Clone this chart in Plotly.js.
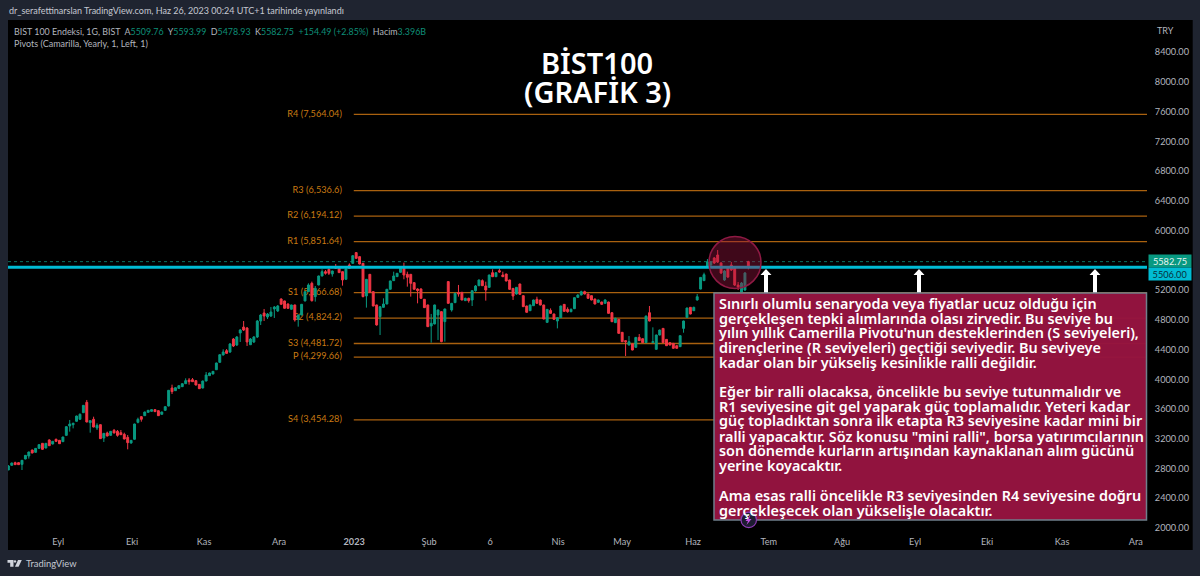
<!DOCTYPE html>
<html><head><meta charset="utf-8">
<script src="https://cdn.plot.ly/plotly-3.0.1.min.js"></script>
<style>html,body{margin:0;padding:0;background:#1f2430;overflow:hidden}#c{width:1200px;height:576px}</style>
</head><body><div id="c"></div>
<script>
const dirs=[
"ggrrgggrggrgrgrrgggggggrgrgrgrgrrrrrgggrgggrrgggrggggrrrrgggggggr",
"grggrrggggrgggg",
"rrrgrggggrgggrrgrrrgrgrrrgrrrgggggggrrrrrrrrgggrgrggrr",
"grgggrrgrgrrrrrgrrrggrrrgrrggrrggggrrrrgrgrrgrrrgrgrrgrgggrrrrrgggrggg",
"gggrrrgrrrrgg"].join("");
const bodyHigh=[2834,2874,2879,2879,2910,2977,3022,3049,3071,3121,3139,3139,3184,3166,3193,3179,3224,3363,3399,3408,3506,3529,3650,3690,3444,3462,3381,3390,3273,3278,3300,3314,3300,3282,3260,3219,3179,3399,3462,3497,3560,3583,3592,3592,3578,3560,3632,3852,3883,3887,3914,3941,3982,3991,3995,3982,3932,3977,4058,4085,4107,4219,4331,4367,4385,
4475,4542,4569,4663,4703,4690,4542,4569,4784,4865,4892,4878,4905,4972,4986,
5080,5054,5013,5000,5000,4865,5009,5179,5269,5291,5224,5390,5448,5448,5479,5457,5515,5502,5448,5484,5538,5663,5704,5650,5560,5345,5412,5179,5000,4977,5013,5211,5323,5390,5426,5493,5515,5412,5412,5300,5215,5215,5076,5000,4753,5000,4933,4910,4946,5314,5022,5157,5166,5170,
5089,5089,5192,5255,5336,5327,5255,5403,5434,5434,5461,5403,5416,5336,5223,5237,5282,5125,4986,5000,5067,5076,5067,4999,4941,4927,4878,4829,4986,5008,4941,4941,5098,5134,5179,5179,5147,5125,5080,5067,5040,5067,5040,4896,4820,4806,4632,4520,4506,4475,4564,4564,4546,4851,4896,4506,4596,4663,4685,4537,4493,4484,4452,4587,4784,4959,4968,4968,5111,5371,5407,
5578,5578,5632,5672,5564,5457,5511,5537,5497,5268,5295,5430,5582.75];
const bodyLow=[2780,2843,2852,2852,2856,2928,2968,3009,3018,3071,3058,3076,3107,3130,3166,3134,3161,3246,3372,3390,3435,3462,3551,3426,3417,3358,3345,3202,3210,3237,3246,3278,3246,3255,3197,3148,3143,3193,3421,3462,3511,3556,3569,3565,3511,3529,3583,3641,3834,3847,3878,3901,3941,3968,3968,3923,3874,3883,3977,4049,4071,4129,4228,4327,4349,
4367,4448,4461,4623,4663,4502,4465,4502,4569,4784,4851,4838,4851,4946,4919,
5009,4955,4955,4942,4798,4807,4865,5054,5179,5058,5112,5269,5390,5426,5426,5417,5493,5435,5336,5345,5493,5560,5627,5551,5112,5121,5170,4986,4731,4843,4968,5013,5211,5327,5381,5439,5403,5372,5291,5211,5193,5089,4964,4708,4717,4744,4865,4507,4776,5022,4933,5031,5148,5067,
5058,5058,5067,5192,5259,5259,5201,5237,5380,5380,5443,5380,5322,5210,5120,5147,5143,4977,4901,4923,4990,5022,4999,4811,4766,4887,4807,4784,4829,4914,4910,4910,4950,5102,5134,5147,5089,5067,5013,5035,5008,5022,4887,4775,4762,4618,4506,4506,4461,4394,4430,4520,4493,4493,4784,4493,4403,4596,4493,4452,4461,4417,4417,4439,4685,4833,4878,4923,5067,5214,5327,
5524,5537,5564,5578,5430,5336,5376,5470,5268,5241,5174,5201,5509.76];
const high=[2847,2879,2892,2883,2915,2982,3027,3053,3076,3125,3143,3143,3193,3170,3202,3184,3228,3367,3453,3417,3511,3542,3654,3722,3448,3497,3408,3394,3278,3296,3305,3332,3318,3318,3282,3251,3184,3403,3484,3506,3565,3587,3596,3600,3583,3565,3636,3856,3928,3892,3919,3946,4013,4017,4017,3986,3937,3982,4098,4089,4112,4224,4336,4403,4407,
4488,4555,4582,4677,4784,4703,4555,4582,4798,4878,4946,4892,4972,4986,4999,
5089,5058,5022,5004,5004,4870,5013,5184,5291,5314,5255,5394,5479,5470,5493,5462,5551,5506,5453,5488,5560,5668,5708,5654,5565,5349,5417,5184,5004,4982,5089,5215,5327,5448,5430,5497,5569,5448,5417,5305,5224,5224,5080,5004,4879,5004,4937,4915,4950,5318,5027,5161,5269,5175,
5098,5098,5197,5268,5340,5344,5313,5407,5479,5439,5492,5448,5421,5340,5228,5241,5286,5129,4990,5004,5071,5111,5071,5004,4945,4954,4883,4833,4990,5013,4968,4954,5102,5143,5192,5192,5152,5129,5085,5071,5044,5076,5044,4901,4829,4811,4636,4524,4582,4479,4569,4609,4551,4856,4986,4699,4600,4668,4690,4542,4497,4488,4457,4591,4789,4963,4972,4977,5147,5376,5434,
5618,5591,5645,5739,5578,5470,5524,5578,5511,5309,5309,5443,5593.99];
const low=[2780,2838,2847,2847,2780,2924,2933,3004,3013,3067,3053,3071,3103,3125,3157,3130,3157,3242,3296,3340,3430,3457,3547,3421,3282,3354,3318,3197,3157,3233,3242,3273,3228,3251,3193,3058,3134,3188,3408,3430,3506,3551,3565,3560,3506,3524,3578,3636,3802,3843,3874,3896,3937,3928,3964,3919,3869,3878,3973,4044,4067,4125,4224,4322,4345,
4354,4434,4448,4502,4650,4448,4461,4488,4555,4730,4784,4811,4838,4825,4905,
5004,4950,4946,4937,4776,4708,4861,5049,5175,5045,5045,5264,5385,5408,5403,5381,5488,5430,5260,5340,5488,5556,5623,5547,5103,4964,5166,4982,4722,4596,4964,5009,5206,5323,5376,5435,5345,5246,5112,5206,5022,5085,4959,4704,4493,4740,4529,4498,4507,5018,4910,5027,5112,5063,
5053,5031,4986,5179,5255,5255,5058,5232,5376,5376,5434,5376,5318,5206,5067,5138,5138,4972,4896,4919,4986,5017,4995,4807,4757,4883,4798,4685,4824,4910,4896,4901,4945,5098,5129,5143,5085,5062,5008,5031,5004,5017,4883,4771,4757,4614,4502,4313,4457,4390,4425,4515,4488,4488,4780,4488,4399,4591,4488,4448,4457,4412,4412,4434,4627,4829,4874,4919,5058,5210,5322,
5510,5524,5551,5564,5416,5322,5362,5457,5255,5201,5161,5188,5478.93];

const pivotNames=["R4 (7,564.04)","R3 (6,536.6)","R2 (6,194.12)","R1 (5,851.64)","S1 (5,166.68)","S2 (4,824.2)","S3 (4,481.72)","P (4,299.66)","S4 (3,454.28)"];
const pivotLevels=[7564.04,6536.6,6194.12,5851.64,5166.68,4824.2,4481.72,4299.66,3454.28];
const lastPrice=5582.75, supportLevel=5506;
const yTickVals=[2000,2400,2800,3200,3600,4000,4400,4800,5200,6000,6400,6800,7200,7600,8000,8400];
const xTickText=["Eyl","Eki","Kas","Ara","<b>2023</b>","Şub","6","Nis","May","Haz","Tem","Ağu","Eyl","Eki","Kas","Ara"];
const xTickVals=[14.6,36.3,57.4,79.4,101.4,123.4,141.3,161.2,180,200.8,223,244.5,265.9,287,309,330.6];
const boxLines=[
["Sınırlı olumlu senaryoda veya fiyatlar ucuz olduğu için",303],
["gerçekleşen tepki alımlarında olası zirvedir. Bu seviye bu",318],
["yılın yıllık Camerilla Pivotu'nun desteklerinden (S seviyeleri),",332.5],
["dirençlerine (R seviyeleri) geçtiği seviyedir. Bu seviyeye",347],
["kadar olan bir yükseliş kesinlikle ralli değildir.",362],
["Eğer bir ralli olacaksa, öncelikle bu seviye tutunmalıdır ve",391],
["R1 seviyesine git gel yaparak güç toplamalıdır. Yeteri kadar",406],
["güç topladıktan sonra ilk etapta R3 seviyesine kadar mini bir",421],
["ralli yapacaktır. Söz konusu \"mini ralli\", borsa yatırımcılarının",436],
["son dönemde kurların artışından kaynaklanan alım gücünü",450.5],
["yerine koyacaktır.",465],
["Ama esas ralli öncelikle R3 seviyesinden R4 seviyesine doğru",495],
["gerçekleşecek olan yükselişle olacaktır.",510]];
const arrowCenters=[766,919,1095];

const FONT='"Noto Sans", sans-serif', UI='Lato, "Noto Sans", sans-serif';
const GREEN='#089981', RED='#f23645', GREY='#b2b5be', ORANGE='#c97a12';
const L=8,R=1147,T=20,B=550;
const X=p=>(p-L)/(R-L), Y=p=>(B-p)/(B-T);
const xs=bodyHigh.map((_,i)=>i);
const open=xs.map(i=>dirs[i]==='g'?bodyLow[i]:bodyHigh[i]);
const close=xs.map(i=>dirs[i]==='g'?bodyHigh[i]:bodyLow[i]);
const xMin=-0.1,xMax=333.9,pivotStart=101.3,labelX=97.8;

const traces=[];
pivotLevels.forEach(v=>traces.push({type:'scatter',mode:'lines',x:[pivotStart,xMax],y:[v,v],line:{color:'#a9610f',width:1.3},hoverinfo:'skip',zorder:1,showlegend:false}));
traces.push({type:'scatter',mode:'text',x:pivotLevels.map(_=>labelX),y:pivotLevels,text:pivotNames,textposition:'middle left',textfont:{family:UI,size:9.2,color:ORANGE},hoverinfo:'skip',zorder:1,showlegend:false});
traces.push({type:'scatter',mode:'lines',x:[xMin,xMax],y:[lastPrice,lastPrice],line:{color:'#0b6f5e',width:1,dash:'dot'},hoverinfo:'skip',zorder:1,showlegend:false});
traces.push({type:'candlestick',x:xs,open:open,high:high,low:low,close:close,whiskerwidth:0,hoverinfo:'skip',zorder:2,showlegend:false,
  increasing:{line:{color:GREEN,width:1},fillcolor:GREEN},decreasing:{line:{color:RED,width:1},fillcolor:RED}});
traces.push({type:'scatter',mode:'lines',x:[xMin,xMax],y:[supportLevel,supportLevel],line:{color:'#00bcd4',width:3},hoverinfo:'skip',zorder:3,showlegend:false});

const shapes=[];
shapes.push({type:'rect',layer:'below',xref:'paper',yref:'paper',x0:1,x1:X(1192.7),y0:0,y1:1,fillcolor:'#000',line:{width:0}});
shapes.push({type:'circle',xref:'paper',yref:'paper',x0:X(709),x1:X(761),y0:Y(288.5),y1:Y(236.5),fillcolor:'rgba(150,20,62,0.42)',line:{color:'#8f1a44',width:1.5}});
arrowCenters.forEach(c=>{
  const d=[[c-2,293],[c-2,275],[c-5.5,275],[c,269],[c+5.5,275],[c+2,275],[c+2,293]];
  shapes.push({type:'path',xref:'paper',yref:'paper',path:'M'+d.map(q=>X(q[0])+','+Y(q[1])).join('L')+'Z',fillcolor:'#fff',line:{width:0}});
});
shapes.push({type:'rect',xref:'paper',yref:'paper',x0:X(714),x1:X(1146.5),y0:Y(520),y1:Y(293),fillcolor:'rgba(150,20,64,0.97)',line:{color:'#6f7f8c',width:1.5}});
shapes.push({type:'circle',xref:'paper',yref:'paper',x0:X(741),x1:X(756.5),y0:Y(527.7),y1:Y(512.2),fillcolor:'#1c1c30',line:{color:'#8e3ab5',width:1.2}});
const bolt=[[750.5,515],[745.5,521],[748,521],[746.5,525],[751.5,519],[749,519]];
shapes.push({type:'path',xref:'paper',yref:'paper',path:'M'+bolt.map(q=>X(q[0])+','+Y(q[1])).join('L')+'Z',fillcolor:'#c44fe6',line:{width:0}});
const logo=[[[7.5,560],[13.5,560],[13.5,566.7],[10.2,566.7],[10.2,562.7],[7.5,562.7]],[[18,560],[21.8,560],[18.6,566.7],[15,566.7]]];
logo.forEach(d=>shapes.push({type:'path',xref:'paper',yref:'paper',path:'M'+d.map(q=>X(q[0])+','+Y(q[1])).join('L')+'Z',fillcolor:'#d1d4dc',line:{width:0}}));
shapes.push({type:'circle',xref:'paper',yref:'paper',x0:X(13.8),x1:X(16.2),y0:Y(562.6),y1:Y(560.2),fillcolor:'#d1d4dc',line:{width:0}});

const note=(t,px,py,o={})=>Object.assign({text:t,xref:'paper',yref:'paper',x:X(px),y:Y(py),xanchor:'left',yanchor:'middle',showarrow:false,borderpad:0,font:{family:UI,size:9,color:GREY}},o);
const gv=s=>`<span style="color:#0e8f78">${s}</span>`;
const anns=[];
anns.push(note('dr_serafettinarslan TradingView.com, Haz 26, 2023 00:24 UTC+1 tarihinde yayınlandı',8,11,{font:{family:UI,size:9,color:'#c5c8d0'}}));
anns.push(note('BIST 100 Endeksi, 1G, BIST&nbsp;&nbsp;A'+gv('5509.76')+'&nbsp;&nbsp;Y'+gv('5593.99')+'&nbsp;&nbsp;D'+gv('5478.93')+'&nbsp;&nbsp;K'+gv('5582.75')+'&nbsp;&nbsp;'+gv('+154.49 (+2.85%)')+'&nbsp;&nbsp;Hacim'+gv('3.396B'),13,31,{font:{family:UI,size:8.9,color:GREY}}));
anns.push(note('Pivots (Camarilla, Yearly, 1, Left, 1)',13,44));
anns.push(note('TRY',1156,30));
anns.push(note('TradingView',25,563.5,{font:{family:UI,size:9.4,color:'#c5c8d0'}}));
anns.push(note('BİST100',597,63,{xanchor:'center',font:{family:FONT,size:29,color:'#fff',weight:600}}));
anns.push(note('(GRAFİK 3)',597,92,{xanchor:'center',font:{family:FONT,size:29,color:'#fff',weight:600}}));
boxLines.forEach(l=>anns.push(note(l[0],718,l[1],{font:{family:FONT,size:14.4,color:'#fff',weight:600}})));
const tag=(t,v,bg,fc,sh)=>({text:t,xref:'paper',yref:'y',x:1,y:v,xanchor:'left',yanchor:'middle',xshift:1,yshift:sh,showarrow:false,bgcolor:bg,width:42,height:12,borderpad:0,align:'center',font:{family:UI,size:9.2,color:fc}});
anns.push(tag('5582.75',lastPrice,GREEN,'#e8f5f2',1));
anns.push(tag('5506.00',supportLevel,'#00bcd4','#08303a',-7));

Plotly.newPlot('c',traces,{
  width:1200,height:576,margin:{l:L,r:1200-R,t:T,b:576-B,pad:0},
  paper_bgcolor:'#1f2430',plot_bgcolor:'#000',showlegend:false,boxgap:0.2,hovermode:false,
  xaxis:{type:'linear',range:[xMin,xMax],tickmode:'array',tickvals:xTickVals,ticktext:xTickText,ticks:'',showgrid:false,zeroline:false,showline:false,ticklabelposition:'inside',rangeslider:{visible:false},tickfont:{family:UI,size:9.2,color:GREY}},
  yaxis:{side:'right',type:'linear',range:[1704,8833],tickmode:'array',tickvals:yTickVals,tickformat:'.2f',ticks:'outside',ticklen:5,tickcolor:'rgba(0,0,0,0)',showgrid:false,zeroline:false,showline:false,tickfont:{family:UI,size:9.2,color:GREY}},
  shapes:shapes,annotations:anns,font:{family:UI}
},{staticPlot:true,displayModeBar:false});
</script></body></html>
